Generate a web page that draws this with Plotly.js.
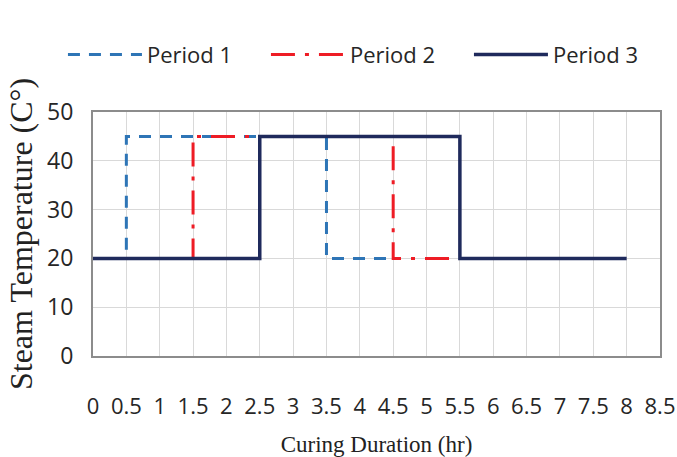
<!DOCTYPE html>
<html>
<head>
<meta charset="utf-8">
<script src="https://cdn.plot.ly/plotly-3.0.1.min.js"></script>
<style>
  html, body { margin: 0; padding: 0; background: #fff; }
  #chart { width: 677px; height: 457px; }
</style>
</head>
<body>
<div id="chart"></div>
<script>
// Data
const seriesNames = ["Period 1", "Period 2", "Period 3"];
const period1X = [0, 0.5, 3.5, 4.5];
const period1Y = [20, 45, 20, 20];
const period2X = [0, 1.5, 4.5, 5.5];
const period2Y = [20, 45, 20, 20];
const period3X = [0, 2.5, 5.5, 8];
const period3Y = [20, 45, 20, 20];
const xTickVals = [0, 0.5, 1, 1.5, 2, 2.5, 3, 3.5, 4, 4.5, 5, 5.5, 6, 6.5, 7, 7.5, 8, 8.5];
const xTickText = ["0", "0.5", "1", "1.5", "2", "2.5", "3", "3.5", "4", "4.5", "5", "5.5", "6", "6.5", "7", "7.5", "8", "8.5"];
const yTickVals = [0, 10, 20, 30, 40, 50];

const traces = [
  { x: period1X, y: period1Y, name: seriesNames[0], mode: "lines",
    line: { shape: "hv", color: "#2E75B6", width: 3, dash: "12px,9px" } },
  { x: period2X, y: period2Y, name: seriesNames[1], mode: "lines",
    line: { shape: "hv", color: "#EE1C25", width: 3, dash: "24px,10px,4px,10px" } },
  { x: period3X, y: period3Y, name: seriesNames[2], mode: "lines",
    line: { shape: "hv", color: "#1F2A5C", width: 3.5 } }
];

const layout = {
  width: 677, height: 457,
  margin: { l: 93, r: 17, t: 112, b: 101 },
  paper_bgcolor: "#fff", plot_bgcolor: "#fff",
  showlegend: true,
  legend: {
    orientation: "h", x: -0.053, xanchor: "left", xref: "paper",
    y: 1.235, yanchor: "middle",
    font: { family: "Open Sans", size: 22, color: "#262626" },
    itemwidth: 74, entrywidth: 114, traceorder: "normal"
  },
  xaxis: {
    range: [0, 8.5], tickmode: "array", tickvals: xTickVals, ticktext: xTickText,
    tickangle: 0, showgrid: true, gridcolor: "#d9d9d9", gridwidth: 1,
    showline: true, mirror: true, linecolor: "#8c8c8c", linewidth: 2,
    zeroline: false, ticks: "", ticklabelstandoff: 30,
    tickfont: { family: "Open Sans", size: 22, color: "#262626" },
    title: { text: "Curing Duration (hr)", standoff: 16,
      font: { family: "Liberation Serif", size: 23, color: "#222" } }
  },
  yaxis: {
    range: [0, 50], tickmode: "array", tickvals: yTickVals,
    showgrid: true, gridcolor: "#d9d9d9", gridwidth: 1,
    showline: true, mirror: true, linecolor: "#8c8c8c", linewidth: 2,
    zeroline: false, ticks: "", ticklabelstandoff: 13,
    tickfont: { family: "Open Sans", size: 23, color: "#262626" },
    title: { text: "Steam Temperature (C°)", standoff: 5,
      font: { family: "Liberation Serif", size: 32, color: "#222" } }
  }
};

Plotly.newPlot("chart", traces, layout, { displayModeBar: false, staticPlot: true });
</script>
</body>
</html>
